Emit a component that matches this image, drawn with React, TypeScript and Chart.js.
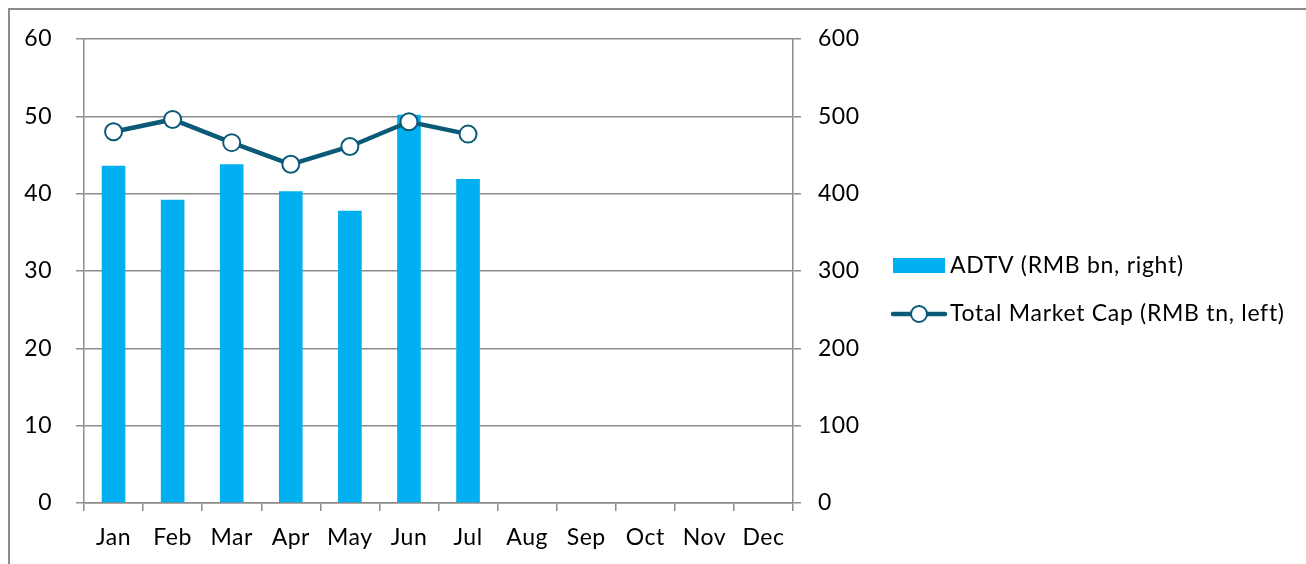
import React, { useEffect, useRef } from "react";
import { Chart, registerables } from "chart.js";

Chart.register(...registerables);

const months = ["Jan", "Feb", "Mar", "Apr", "May", "Jun", "Jul", "Aug", "Sep", "Oct", "Nov", "Dec"];
const adtv = [436, 392, 438, 403, 378, 502, 419, null, null, null, null, null];
const marketCap = [48.0, 49.6, 46.6, 43.8, 46.1, 49.3, 47.7, null, null, null, null, null];
const leftTicks = [0, 10, 20, 30, 40, 50, 60];
const rightTicks = [0, 100, 200, 300, 400, 500, 600];
const adtvLabel = "ADTV (RMB bn, right)";
const capLabel = "Total Market Cap (RMB tn, left)";

const BAR_COLOR = "#00B0F0";
const LINE_COLOR = "#0B5A78";
const GRID = "#8c8c8c";
const FONT = "Lato";
const FONT_SIZE = 23;

const spacingPlugin = {
  id: "spacing",
  beforeDraw(chart: any) {
    (chart.ctx as any).letterSpacing = "0.5px";
  },
};

const legendPlugin = {
  id: "customLegend",
  afterDraw(chart: any) {
    const ctx = chart.ctx;
    ctx.save();
    (ctx as any).letterSpacing = "0.7px";
    ctx.font = `${FONT_SIZE}px ${FONT}`;
    ctx.textBaseline = "middle";
    ctx.textAlign = "left";
    // bar item
    ctx.fillStyle = BAR_COLOR;
    ctx.fillRect(883, 248, 52, 15);
    ctx.fillStyle = "#000";
    ctx.fillText(adtvLabel, 940, 256);
    // line item
    ctx.strokeStyle = LINE_COLOR;
    ctx.lineWidth = 4.5;
    ctx.lineCap = "round";
    ctx.beginPath();
    ctx.moveTo(883, 304);
    ctx.lineTo(935, 304);
    ctx.stroke();
    ctx.beginPath();
    ctx.arc(909, 304, 8, 0, Math.PI * 2);
    ctx.fillStyle = "#fff";
    ctx.fill();
    ctx.lineWidth = 2;
    ctx.stroke();
    ctx.fillStyle = "#000";
    ctx.fillText(capLabel, 940, 304);
    ctx.restore();
  },
};

export default function App() {
  const ref = useRef<HTMLCanvasElement>(null);
  useEffect(() => {
    if (!ref.current) return;
    const chart = new Chart(ref.current, {
      type: "bar",
      data: {
        labels: months,
        datasets: [
          {
            type: "line",
            label: capLabel,
            data: marketCap as any,
            yAxisID: "yLeft",
            borderColor: LINE_COLOR,
            borderWidth: 4.5,
            pointRadius: 8.5,
            pointBorderWidth: 2,
            pointBackgroundColor: "#fff",
            pointBorderColor: LINE_COLOR,
            tension: 0,
            order: 0,
          } as any,
          {
            type: "bar",
            label: adtvLabel,
            data: adtv as any,
            yAxisID: "yRight",
            backgroundColor: BAR_COLOR,
            barPercentage: 0.4,
            categoryPercentage: 1,
            order: 1,
          },
        ],
      },
      options: {
        responsive: false,
        animation: false,
        layout: { padding: { top: 29, left: 0, right: 433, bottom: 0 } },
        plugins: { legend: { display: false }, tooltip: { enabled: false } },
        font: { family: FONT, size: FONT_SIZE } as any,
        scales: {
          x: {
            offset: true,
            grid: {
              offset: true,
              drawOnChartArea: false,
              drawTicks: true,
              tickLength: 8,
              color: GRID,
              lineWidth: 1.5,
            },
            border: { display: true, color: GRID, width: 1.5 },
            ticks: { color: "#000", font: { family: FONT, size: FONT_SIZE }, padding: 13, maxRotation: 0, autoSkip: false },
            afterFit: (s: any) => {
              s.height = 61;
              s.paddingLeft = 0;
              s.paddingRight = 0;
            },
          },
          yLeft: {
            position: "left",
            min: 0,
            max: 60,
            afterBuildTicks: (s: any) => {
              s.ticks = leftTicks.map((v) => ({ value: v }));
            },
            grid: { color: GRID, lineWidth: 1.5, tickLength: 8 },
            border: { display: true, color: GRID, width: 1.5 },
            ticks: { color: "#000", font: { family: FONT, size: FONT_SIZE }, padding: 24 },
            afterFit: (s: any) => {
              s.width = 74;
              s.paddingTop = 0;
              s.paddingBottom = 0;
            },
          },
          yRight: {
            position: "right",
            min: 0,
            max: 600,
            afterBuildTicks: (s: any) => {
              s.ticks = rightTicks.map((v) => ({ value: v }));
            },
            grid: { drawOnChartArea: false, color: GRID, lineWidth: 1.5, tickLength: 8 },
            border: { display: true, color: GRID, width: 1.5 },
            ticks: { color: "#000", font: { family: FONT, size: FONT_SIZE }, padding: 17 },
            afterFit: (s: any) => {
              s.width = 80;
              s.paddingTop = 0;
              s.paddingBottom = 0;
            },
          },
        },
      },
      plugins: [spacingPlugin, legendPlugin],
    });
    return () => chart.destroy();
  }, []);

  return (
    <div
      style={{
        position: "fixed",
        left: 8,
        top: 8,
        width: 1298,
        height: 556,
        boxSizing: "border-box",
        borderTop: "2px solid #8c8c8c",
        borderLeft: "2px solid #8c8c8c",
        background: "#fff",
      }}
    >
      <canvas ref={ref} width={1296} height={554} style={{ display: "block" }} />
    </div>
  );
}
